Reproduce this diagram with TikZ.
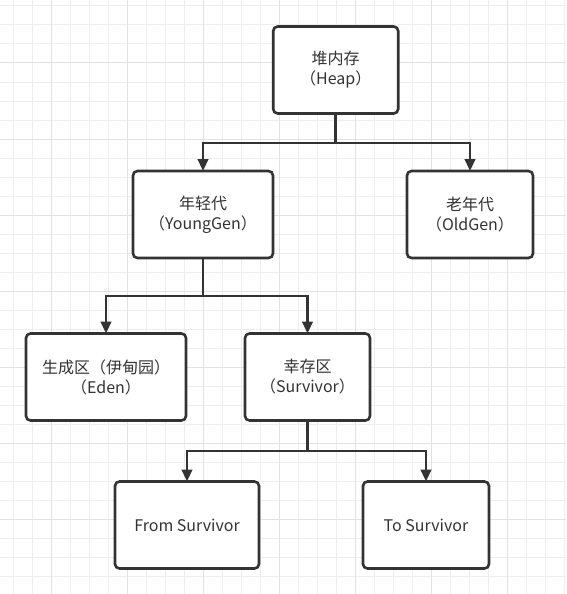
\documentclass[tikz,border=0pt]{standalone}
\usepackage{fontspec}
\setmainfont{Noto Sans CJK SC}
\usetikzlibrary{arrows.meta}
\definecolor{ink}{HTML}{333333}
\definecolor{gridminor}{HTML}{EEEEEE}
\definecolor{gridmajor}{HTML}{E2E2E2}
\tikzset{
  box/.style={draw=ink, line width=2.6pt, rounded corners=4.5pt, fill=white,
    text=ink, align=center, inner sep=0pt, outer sep=0pt,
    font=\fontsize{16}{20}\selectfont},
  conn/.style={draw=ink, line width=2.6pt},
  arr/.style={conn, -{Triangle[length=12pt,width=10.5pt]}}
}
\begin{document}
\begin{tikzpicture}[x=1pt,y=-1pt]
\useasboundingbox (0,0) rectangle (566,594);
\fill[white] (0,0) rectangle (566,594);
% grid
\foreach \i in {0,...,29} {
  \pgfmathsetmacro{\gx}{13.3+19*\i}
  \draw[gridminor, line width=1pt] (\gx,0) -- (\gx,594);
}
\foreach \i in {0,...,31} {
  \pgfmathsetmacro{\gy}{6+19*\i}
  \draw[gridminor, line width=1pt] (0,\gy) -- (566,\gy);
}
\foreach \i in {0,...,7} {
  \pgfmathsetmacro{\gx}{51.3+76*\i}
  \draw[gridmajor, line width=1pt] (\gx,0) -- (\gx,594);
}
\foreach \i in {0,...,7} {
  \pgfmathsetmacro{\gy}{63+76*\i}
  \draw[gridmajor, line width=1pt] (0,\gy) -- (566,\gy);
}
% nodes
\node[box, minimum width=125pt, minimum height=87pt] (heap) at (335.7,70) {堆内存\\（Heap）};
\node[box, minimum width=140pt, minimum height=87pt] (young) at (203,214.5) {年轻代\\（YoungGen）};
\node[box, minimum width=126pt, minimum height=87pt] (old) at (470,214.5) {老年代\\（OldGen）};
\node[box, minimum width=160pt, minimum height=87pt] (eden) at (106,377) {生成区（伊甸园）\\（Eden）};
\node[box, minimum width=125pt, minimum height=87pt] (surv) at (307.5,377) {幸存区\\（Survivor）};
\node[box, minimum width=144pt, minimum height=87pt] (from) at (187,525) {From Survivor};
\node[box, minimum width=126pt, minimum height=87pt] (to) at (426,525) {To Survivor};
% connectors
\coordinate (j1) at (heap.south |- 0,143);
\coordinate (j2) at (young.south |- 0,296);
\coordinate (j3) at (surv.south |- 0,451);
\draw[conn] (heap.south) -- (j1);
\draw[arr] (j1) -| (young.north);
\draw[arr] (j1) -| (old.north);
\draw[conn] (young.south) -- (j2);
\draw[arr] (j2) -| (eden.north);
\draw[arr] (j2) -| (surv.north);
\draw[conn] (surv.south) -- (j3);
\draw[arr] (j3) -| (from.north);
\draw[arr] (j3) -| (to.north);
\end{tikzpicture}
\end{document}
